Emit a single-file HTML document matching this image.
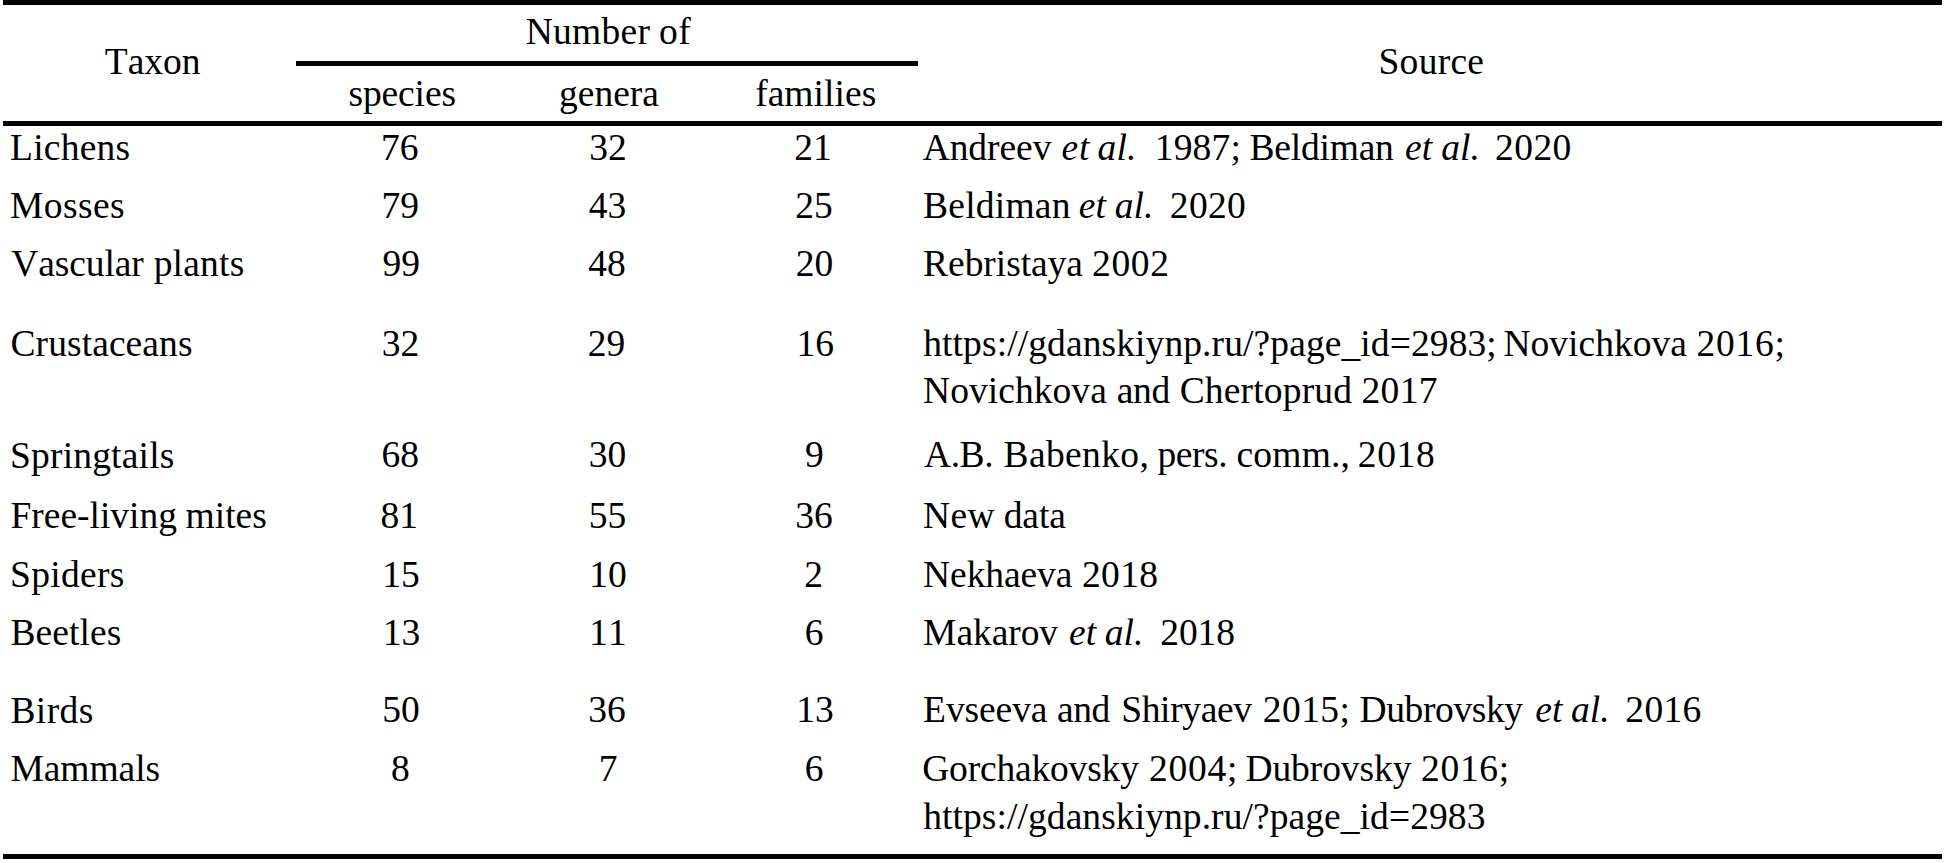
<!DOCTYPE html>
<html lang="en"><head><meta charset="utf-8"><title>Table</title>
<style>
html,body{margin:0;padding:0;background:#fff;}
body{width:1946px;height:863px;position:relative;overflow:hidden;font-family:"Liberation Serif","Times New Roman",Times,serif;font-size:37.5px;color:#000;font-kerning:none;font-variant-ligatures:none;}
.t{position:absolute;white-space:pre;line-height:1;height:1em;font-style:normal;}
i.t{font-style:italic;}
.ln{position:absolute;background:#000;}
</style></head><body>
<div class="ln" style="left:3px;top:0;width:1939px;height:5px"></div>
<div class="ln" style="left:296px;top:61px;width:622px;height:5px"></div>
<div class="ln" style="left:3px;top:121px;width:1939px;height:5px"></div>
<div class="ln" style="left:3px;top:854px;width:1939px;height:5px"></div>

<div class="table">
<div class="row head">
<div class="cell"><span id="h_taxon" class="t" style="left:104.83px;top:42.89px;letter-spacing:-0.020px;">Taxon</span></div>
<div class="cell"><span id="h_num1" class="t" style="left:525.67px;top:12.89px;letter-spacing:0.294px;">Number</span> <span id="h_num2" class="t" style="left:659.00px;top:12.89px;letter-spacing:0.400px;">of</span></div>
<div class="cell"><span id="h_sp" class="t" style="left:348.50px;top:74.89px;letter-spacing:-0.133px;">species</span></div>
<div class="cell"><span id="h_ge" class="t" style="left:559.00px;top:74.89px;">genera</span></div>
<div class="cell"><span id="h_fa" class="t" style="left:755.14px;top:74.89px;letter-spacing:0.052px;">families</span></div>
<div class="cell"><span id="h_src" class="t" style="left:1378.50px;top:42.89px;letter-spacing:0.261px;">Source</span></div>
</div>
<div class="row">
<div class="cell"><span id="r0_t" class="t" style="left:10.00px;top:128.89px;letter-spacing:0.236px;">Lichens</span></div>
<div class="cell"><span id="r0_s" class="t" style="left:381.11px;top:128.89px;">76</span></div>
<div class="cell"><span id="r0_g" class="t" style="left:589.29px;top:128.89px;">32</span></div>
<div class="cell"><span id="r0_f" class="t" style="left:794.13px;top:128.89px;">21</span></div>
<div class="cell"><div class="line"><span id="r0_w0" class="t" style="left:922.64px;top:128.89px;letter-spacing:-0.054px;">Andreev</span> <i id="r0_w1" class="t" style="left:1061.50px;top:128.89px;letter-spacing:0.900px;">et</i> <i id="r0_w2" class="t" style="left:1097.50px;top:128.89px;letter-spacing:0.200px;">al.</i> <span id="r0_w3" class="t" style="left:1154.70px;top:128.89px;letter-spacing:0.199px;">1987;</span> <span id="r0_w4" class="t" style="left:1249.50px;top:128.89px;letter-spacing:-0.212px;">Beldiman</span> <i id="r0_w5" class="t" style="left:1405.06px;top:128.89px;">et</i> <i id="r0_w6" class="t" style="left:1441.34px;top:128.89px;">al.</i> <span id="r0_w7" class="t" style="left:1495.11px;top:128.89px;letter-spacing:0.418px;">2020</span></div></div>
</div>
<div class="row">
<div class="cell"><span id="r1_t" class="t" style="left:10.00px;top:186.89px;letter-spacing:0.406px;">Mosses</span></div>
<div class="cell"><span id="r1_s" class="t" style="left:381.61px;top:186.89px;">79</span></div>
<div class="cell"><span id="r1_g" class="t" style="left:588.70px;top:186.89px;">43</span></div>
<div class="cell"><span id="r1_f" class="t" style="left:795.14px;top:186.89px;">25</span></div>
<div class="cell"><div class="line"><span id="r1_w0" class="t" style="left:923.10px;top:186.89px;letter-spacing:0.216px;">Beldiman</span> <i id="r1_w1" class="t" style="left:1078.81px;top:186.89px;">et</i> <i id="r1_w2" class="t" style="left:1114.84px;top:186.89px;">al.</i> <span id="r1_w3" class="t" style="left:1169.86px;top:186.89px;letter-spacing:0.297px;">2020</span></div></div>
</div>
<div class="row">
<div class="cell"><span id="r2_t1" class="t" style="left:11.16px;top:244.89px;letter-spacing:-0.080px;">Vascular</span> <span id="r2_t2" class="t" style="left:153.64px;top:244.89px;letter-spacing:0.218px;">plants</span></div>
<div class="cell"><span id="r2_s" class="t" style="left:382.52px;top:244.89px;">99</span></div>
<div class="cell"><span id="r2_g" class="t" style="left:588.32px;top:244.89px;">48</span></div>
<div class="cell"><span id="r2_f" class="t" style="left:795.64px;top:244.89px;">20</span></div>
<div class="cell"><div class="line"><span id="r2_w0" class="t" style="left:923.10px;top:244.89px;letter-spacing:-0.052px;">Rebristaya</span> <span id="r2_w1" class="t" style="left:1092.00px;top:244.89px;letter-spacing:0.667px;">2002</span></div></div>
</div>
<div class="row">
<div class="cell"><span id="r3_t" class="t" style="left:10.50px;top:324.89px;letter-spacing:0.082px;">Crustaceans</span></div>
<div class="cell"><span id="r3_s" class="t" style="left:381.84px;top:324.89px;">32</span></div>
<div class="cell"><span id="r3_g" class="t" style="left:587.86px;top:324.89px;">29</span></div>
<div class="cell"><span id="r3_f" class="t" style="left:796.40px;top:324.89px;">16</span></div>
<div class="cell"><div class="line"><span id="r3_w0" class="t" style="left:923.21px;top:324.89px;letter-spacing:0.101px;">https://gdanskiynp.ru/?page_id=2983;</span> <span id="r3_w1" class="t" style="left:1503.50px;top:324.89px;">Novichkova</span> <span id="r3_w2" class="t" style="left:1696.50px;top:324.89px;letter-spacing:0.750px;">2016;</span></div>
<div class="line"><span id="r3b_w0" class="t" style="left:923.10px;top:371.89px;letter-spacing:0.045px;">Novichkova</span> <span id="r3b_w1" class="t" style="left:1116.63px;top:371.89px;letter-spacing:-0.214px;">and</span> <span id="r3b_w2" class="t" style="left:1179.66px;top:371.89px;letter-spacing:0.177px;">Chertoprud</span> <span id="r3b_w3" class="t" style="left:1361.50px;top:371.89px;letter-spacing:0.333px;">2017</span></div></div>
</div>
<div class="row">
<div class="cell"><span id="r4_t" class="t" style="left:10.00px;top:436.89px;letter-spacing:0.182px;">Springtails</span></div>
<div class="cell"><span id="r4_s" class="t" style="left:381.41px;top:435.89px;">68</span></div>
<div class="cell"><span id="r4_g" class="t" style="left:588.76px;top:435.89px;">30</span></div>
<div class="cell"><span id="r4_f" class="t" style="left:804.97px;top:435.89px;">9</span></div>
<div class="cell"><div class="line"><span id="r4_w0" class="t" style="left:924.03px;top:435.89px;letter-spacing:-0.450px;">A.B.</span> <span id="r4_w1" class="t" style="left:1003.50px;top:435.89px;letter-spacing:0.375px;">Babenko,</span> <span id="r4_w2" class="t" style="left:1157.50px;top:435.89px;letter-spacing:-0.450px;">pers.</span> <span id="r4_w3" class="t" style="left:1236.53px;top:435.89px;letter-spacing:0.194px;">comm.,</span> <span id="r4_w4" class="t" style="left:1357.86px;top:435.89px;letter-spacing:0.597px;">2018</span></div></div>
</div>
<div class="row">
<div class="cell"><span id="r5_t1" class="t" style="left:10.42px;top:496.89px;">Free-living</span> <span id="r5_t2" class="t" style="left:185.57px;top:496.89px;">mites</span></div>
<div class="cell"><span id="r5_s" class="t" style="left:380.53px;top:496.89px;">81</span></div>
<div class="cell"><span id="r5_g" class="t" style="left:588.76px;top:496.89px;">55</span></div>
<div class="cell"><span id="r5_f" class="t" style="left:795.35px;top:496.89px;">36</span></div>
<div class="cell"><div class="line"><span id="r5_w0" class="t" style="left:923.10px;top:496.89px;letter-spacing:0.327px;">New</span> <span id="r5_w1" class="t" style="left:1003.70px;top:496.89px;letter-spacing:-0.068px;">data</span></div></div>
</div>
<div class="row">
<div class="cell"><span id="r6_t" class="t" style="left:10.00px;top:555.89px;letter-spacing:0.303px;">Spiders</span></div>
<div class="cell"><span id="r6_s" class="t" style="left:382.20px;top:555.89px;">15</span></div>
<div class="cell"><span id="r6_g" class="t" style="left:589.37px;top:555.89px;">10</span></div>
<div class="cell"><span id="r6_f" class="t" style="left:804.16px;top:555.89px;">2</span></div>
<div class="cell"><div class="line"><span id="r6_w0" class="t" style="left:923.10px;top:555.89px;letter-spacing:-0.085px;">Nekhaeva</span> <span id="r6_w1" class="t" style="left:1082.00px;top:555.89px;letter-spacing:0.333px;">2018</span></div></div>
</div>
<div class="row">
<div class="cell"><span id="r7_t" class="t" style="left:10.42px;top:613.89px;letter-spacing:0.107px;">Beetles</span></div>
<div class="cell"><span id="r7_s" class="t" style="left:382.66px;top:613.89px;">13</span></div>
<div class="cell"><span id="r7_g" class="t" style="left:589.15px;top:613.89px;">11</span></div>
<div class="cell"><span id="r7_f" class="t" style="left:804.67px;top:613.89px;">6</span></div>
<div class="cell"><div class="line"><span id="r7_w0" class="t" style="left:923.10px;top:613.89px;letter-spacing:-0.058px;">Makarov</span> <i id="r7_w1" class="t" style="left:1069.00px;top:613.89px;">et</i> <i id="r7_w2" class="t" style="left:1104.84px;top:613.89px;">al.</i> <span id="r7_w3" class="t" style="left:1160.36px;top:613.89px;letter-spacing:-0.128px;">2018</span></div></div>
</div>
<div class="row">
<div class="cell"><span id="r8_t" class="t" style="left:10.42px;top:691.89px;letter-spacing:0.411px;">Birds</span></div>
<div class="cell"><span id="r8_s" class="t" style="left:382.16px;top:690.89px;">50</span></div>
<div class="cell"><span id="r8_g" class="t" style="left:588.35px;top:690.89px;">36</span></div>
<div class="cell"><span id="r8_f" class="t" style="left:796.21px;top:690.89px;">13</span></div>
<div class="cell"><div class="line"><span id="r8_w0" class="t" style="left:923.10px;top:690.89px;letter-spacing:-0.099px;">Evseeva</span> <span id="r8_w1" class="t" style="left:1057.00px;top:690.89px;letter-spacing:-0.450px;">and</span> <span id="r8_w2" class="t" style="left:1121.16px;top:690.89px;letter-spacing:-0.344px;">Shiryaev</span> <span id="r8_w3" class="t" style="left:1262.86px;top:690.89px;letter-spacing:0.419px;">2015;</span> <span id="r8_w4" class="t" style="left:1359.50px;top:690.89px;letter-spacing:-0.385px;">Dubrovsky</span> <i id="r8_w5" class="t" style="left:1535.31px;top:690.89px;">et</i> <i id="r8_w6" class="t" style="left:1571.09px;top:690.89px;">al.</i> <span id="r8_w7" class="t" style="left:1625.36px;top:690.89px;letter-spacing:0.275px;">2016</span></div></div>
</div>
<div class="row">
<div class="cell"><span id="r9_t" class="t" style="left:10.42px;top:749.89px;letter-spacing:-0.029px;">Mammals</span></div>
<div class="cell"><span id="r9_s" class="t" style="left:391.01px;top:749.89px;">8</span></div>
<div class="cell"><span id="r9_g" class="t" style="left:598.84px;top:749.89px;">7</span></div>
<div class="cell"><span id="r9_f" class="t" style="left:804.67px;top:749.89px;">6</span></div>
<div class="cell"><div class="line"><span id="r9_w0" class="t" style="left:922.16px;top:749.89px;letter-spacing:-0.179px;">Gorchakovsky</span> <span id="r9_w1" class="t" style="left:1149.00px;top:749.89px;letter-spacing:0.750px;">2004;</span> <span id="r9_w2" class="t" style="left:1245.42px;top:749.89px;letter-spacing:-0.077px;">Dubrovsky</span> <span id="r9_w3" class="t" style="left:1421.00px;top:749.89px;letter-spacing:0.696px;">2016;</span></div>
<div class="line"><span id="r9b_w0" class="t" style="left:923.21px;top:797.89px;letter-spacing:0.075px;">https://gdanskiynp.ru/?page_id=2983</span></div></div>
</div>
</div>
</body></html>
